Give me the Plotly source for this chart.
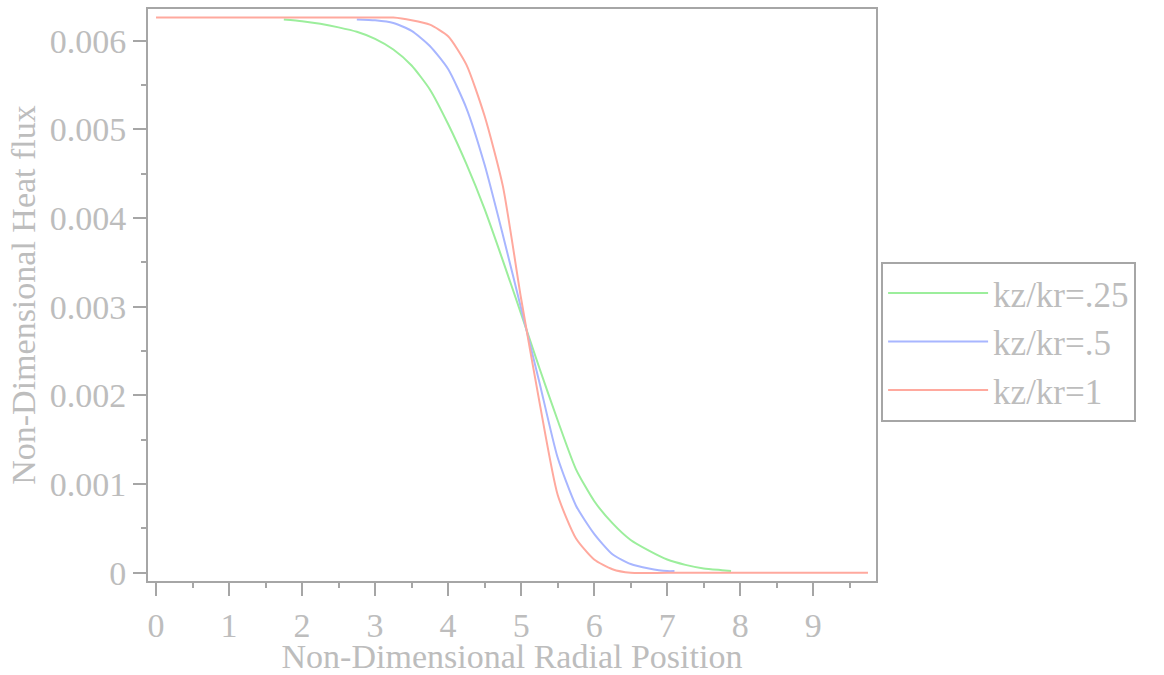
import plotly.graph_objects as go

# ---- data ----
x_green = [1.75, 2.0, 2.25, 2.5, 2.75, 3.0, 3.25, 3.5, 3.75, 4.0, 4.25, 4.5, 4.75, 5.0,
           5.25, 5.5, 5.75, 6.0, 6.25, 6.5, 6.75, 7.0, 7.25, 7.5, 7.75, 7.875]
y_green = [0.00624, 0.00622, 0.00619, 0.00615, 0.00610, 0.00602, 0.00590, 0.00572, 0.00545,
           0.00506, 0.00461, 0.00410, 0.00352, 0.00292, 0.00231, 0.00172, 0.00117, 0.00081,
           0.00056, 0.00037, 0.00025, 0.00015, 0.00009, 0.00005, 0.00003, 0.00002]

x_blue = [2.75, 3.0, 3.25, 3.5, 3.75, 4.0, 4.25, 4.5, 4.75, 5.0, 5.25, 5.5, 5.75, 6.0,
          6.25, 6.5, 6.75, 7.0, 7.1]
y_blue = [0.00624, 0.00623, 0.00620, 0.00611, 0.00594, 0.00568, 0.00524, 0.00460, 0.00381,
          0.00298, 0.00215, 0.00130, 0.00076, 0.00044, 0.00021, 0.00010, 0.00005, 0.00002,
          0.00002]

x_red = [0.0, 1.0, 2.0, 3.0, 3.25, 3.5, 3.75, 4.0, 4.25, 4.5, 4.75, 5.0, 5.25, 5.5, 5.75,
         6.0, 6.25, 6.5, 7.0, 8.0, 9.0, 9.75]
y_red = [0.00626, 0.00626, 0.00626, 0.00626, 0.00626, 0.00623, 0.00618, 0.00605, 0.00573,
         0.00515, 0.00436, 0.00309, 0.00193, 0.00088, 0.00039, 0.00015, 0.00004, 0.0,
         0.0, 0.0, 0.0, 0.0]

series_names = ["kz/kr=.25", "kz/kr=.5", "kz/kr=1"]
series_colors = ["#9cee9c", "#a8b6ff", "#ffa99e"]

x_tickvals = [0, 1, 2, 3, 4, 5, 6, 7, 8, 9]
y_tickvals = [0, 0.001, 0.002, 0.003, 0.004, 0.005, 0.006]
y_ticktext = ["0", "0.001", "0.002", "0.003", "0.004", "0.005", "0.006"]

FONT = "Liberation Serif, Times New Roman, serif"
TXT = "#bdbdbd"
FRAME = "#a6a6a6"

fig = go.Figure()
for xs, ys, name, col in zip([x_green, x_blue, x_red], [y_green, y_blue, y_red],
                             series_names, series_colors):
    fig.add_trace(go.Scatter(x=xs, y=ys, mode="lines", name=name,
                             line=dict(color=col, width=2, shape="spline", smoothing=0.6)))

fig.update_layout(
    width=1164, height=675,
    margin=dict(l=148, r=288, t=7, b=85),
    paper_bgcolor="white", plot_bgcolor="white",
    font=dict(family=FONT, color=TXT, size=34),
    showlegend=True,
    legend=dict(x=1.007, y=0.558, xanchor="left", yanchor="top",
                bordercolor=FRAME, borderwidth=2, bgcolor="white",
                font=dict(family=FONT, size=35, color=TXT),
                itemwidth=100, tracegroupgap=0),
)
fig.update_xaxes(
    range=[-0.11, 9.86], tickvals=x_tickvals, showgrid=False, zeroline=False,
    showline=True, mirror=True, linecolor=FRAME, linewidth=2,
    ticks="outside", ticklen=13, tickwidth=2, tickcolor=FRAME,
    minor=dict(dtick=0.5, ticks="outside", ticklen=5, tickwidth=2, tickcolor=FRAME),
    tickfont=dict(family=FONT, size=34, color=TXT),
    title=dict(text="Non-Dimensional Radial Position", standoff=0,
               font=dict(family=FONT, size=34, color=TXT)),
)
fig.update_yaxes(
    range=[-0.000092, 0.006357], tickvals=y_tickvals, ticktext=y_ticktext,
    showgrid=False, zeroline=False,
    showline=True, mirror=True, linecolor=FRAME, linewidth=2,
    ticks="outside", ticklen=13, tickwidth=2, tickcolor=FRAME,
    minor=dict(dtick=0.0005, ticks="outside", ticklen=5, tickwidth=2, tickcolor=FRAME),
    tickfont=dict(family=FONT, size=34, color=TXT),
    title=dict(text="Non-Dimensional Heat flux", standoff=4,
               font=dict(family=FONT, size=34, color=TXT)),
)

fig.write_html("out.html")
